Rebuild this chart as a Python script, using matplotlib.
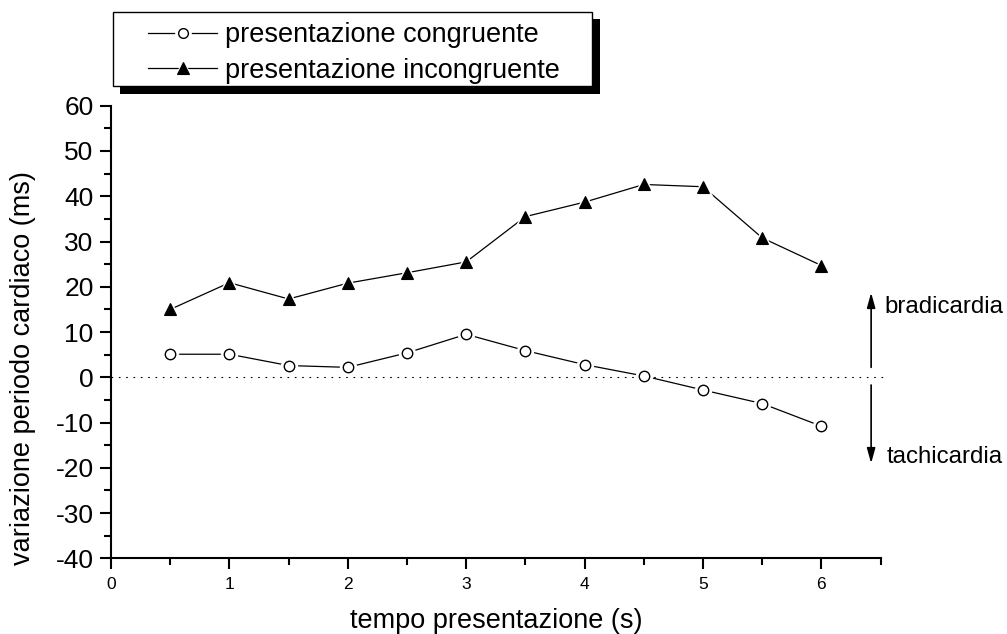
import matplotlib
matplotlib.use("Agg")
import matplotlib.pyplot as plt
from matplotlib.lines import Line2D
from matplotlib.patches import Rectangle
from matplotlib.ticker import MultipleLocator

plt.rcParams['font.family'] = ['Liberation Sans', 'DejaVu Sans']

# ---- data -------------------------------------------------------------
tempo = [0.5, 1.0, 1.5, 2.0, 2.5, 3.0, 3.5, 4.0, 4.5, 5.0, 5.5, 6.0]
congruente = [5.1, 5.1, 2.6, 2.2, 5.4, 9.5, 5.9, 2.8, 0.3, -2.8, -5.8, -10.8]
incongruente = [15.0, 20.9, 17.3, 20.8, 23.1, 25.5, 35.5, 38.7, 42.6, 42.1, 30.8, 24.7]
series_labels = ["presentazione congruente", "presentazione incongruente"]
x_ticks = [0, 1, 2, 3, 4, 5, 6]
y_ticks = [-40, -30, -20, -10, 0, 10, 20, 30, 40, 50, 60]
x_label = "tempo presentazione (s)"
y_label = "variazione periodo cardiaco (ms)"
up_label, down_label = "bradicardia", "tachicardia"

# ---- figure geometry (pixels) ----------------------------------------
W, H = 1007, 634
fig = plt.figure(figsize=(W / 100, H / 100), dpi=100)
L, R, T, B = 111, 880.6, 105.7, 558.4
ax = fig.add_axes([L / W, 1 - B / H, (R - L) / W, (B - T) / H])


def fx(px):
    return px / W


def fy(py):
    return 1 - py / H


ax.set_xlim(0, 6.5)
ax.set_ylim(-40, 60)
for s in ("top", "right"):
    ax.spines[s].set_visible(False)
for s in ("left", "bottom"):
    ax.spines[s].set_linewidth(1.5)

ax.set_xticks(x_ticks)
ax.set_xticklabels([str(v) for v in x_ticks])
ax.set_yticks(y_ticks)
ax.set_yticklabels([str(v) for v in y_ticks])
ax.xaxis.set_minor_locator(MultipleLocator(0.5))
ax.yaxis.set_minor_locator(MultipleLocator(5))
ax.tick_params(axis="both", which="major", direction="out", length=8, width=1.5)
ax.tick_params(axis="both", which="minor", direction="out", length=5, width=1.5)
ax.tick_params(axis="x", which="major", labelsize=12.5, pad=5.5)
ax.tick_params(axis="y", which="major", labelsize=19, pad=4.5)

ax.set_xlabel(x_label, fontsize=19.5, va="center")
ax.xaxis.set_label_coords(0.5, -(621 - B) / (B - T))
ax.set_ylabel(y_label, fontsize=19.5, va="center")
ax.yaxis.set_label_coords((23 - L) / (R - L), (B - 368) / (B - T))

# zero reference line
ax.axhline(0, xmin=0, xmax=1.008, color="black", lw=0.8,
           linestyle=(0, (1.5, 5.1)), clip_on=False, zorder=1)

styles = [
    dict(marker="o", mfc="white", mec="black", ms=7.5, mew=1.0),
    dict(marker="^", mfc="black", mec="black", ms=9.0, mew=0.8),
]
for values, st in zip([congruente, incongruente], styles):
    ax.plot(tempo, values, color="black", lw=0.9, zorder=2)
    # white halo leaves a small gap between line and marker
    ax.plot(tempo, values, linestyle="none", marker=st["marker"],
            ms=st["ms"] + 4, mfc="white", mec="white", zorder=3)
    ax.plot(tempo, values, linestyle="none", zorder=4, **st)

# bradicardia / tachicardia arrows
arrow_x = 6.42
arrow_kw = dict(arrowstyle="-|>,head_length=0.9,head_width=0.25",
                color="black", lw=1.2, shrinkA=0, shrinkB=0)
ax.annotate("", xy=(arrow_x, 18.7), xytext=(arrow_x, 2.2),
            arrowprops=arrow_kw, annotation_clip=False)
ax.annotate("", xy=(arrow_x, -19.0), xytext=(arrow_x, -1.7),
            arrowprops=arrow_kw, annotation_clip=False)
ax.text(6.53, 14.1, up_label, fontsize=17.3, ha="left", va="baseline", clip_on=False)
ax.text(6.55, -19.0, down_label, fontsize=17.3, ha="left", va="baseline", clip_on=False)

# ---- legend box with drop shadow --------------------------------------
bx0, by0, bx1, by1 = 112.7, 11.7, 592, 86
shadow = 7.5
fig.add_artist(Rectangle((fx(bx0 + shadow), fy(by1 + shadow)),
                         fx(bx1 - bx0), (by1 - by0) / H,
                         transform=fig.transFigure, facecolor="black",
                         edgecolor="black", lw=0, zorder=5))
fig.add_artist(Rectangle((fx(bx0), fy(by1)), fx(bx1 - bx0), (by1 - by0) / H,
                         transform=fig.transFigure, facecolor="white",
                         edgecolor="black", lw=1.0, zorder=6))
legend_marker_size = [7.0, 8.0]
rows_line = [33.3, 68.3]
rows_base = [42.5, 77.5]
for st, ms, lab, yl, yb in zip(styles, legend_marker_size, series_labels,
                               rows_line, rows_base):
    st = dict(st, ms=ms)
    fig.add_artist(Line2D([fx(148), fx(216.7)], [fy(yl), fy(yl)],
                          transform=fig.transFigure, color="black",
                          lw=0.9, zorder=7))
    fig.add_artist(Line2D([fx(183)], [fy(yl)], transform=fig.transFigure,
                          linestyle="none", marker=st["marker"],
                          ms=ms + 4, mfc="white", mec="white", zorder=8))
    fig.add_artist(Line2D([fx(183)], [fy(yl)], transform=fig.transFigure,
                          linestyle="none", zorder=9, **st))
    fig.text(fx(225), fy(yb), lab, fontsize=19.5, ha="left", va="baseline",
             zorder=9)

fig.savefig("out.png", dpi=100)
